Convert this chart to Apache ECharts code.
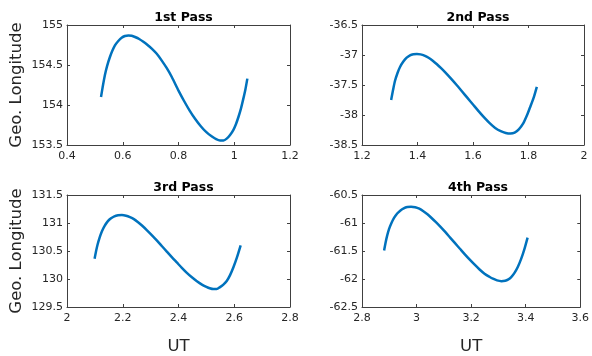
<!DOCTYPE html>
<html><head><meta charset="utf-8">
<script src="https://cdn.jsdelivr.net/npm/echarts@6/dist/echarts.min.js"></script>
<style>html,body{margin:0;padding:0;background:#fff}#c{width:592px;height:356px}</style>
</head><body><div id="c"></div>
<script>
// ---- data ----
const titles = ['1st Pass', '2nd Pass', '3rd Pass', '4th Pass'];
const yName = 'Geo. Longitude';
const xName = 'UT';

const pass1X = [0.522,0.528,0.536,0.544,0.554,0.563,0.572,0.584,0.596,0.608,0.620,0.632,0.644,0.659,0.674,0.689,0.704,0.722,0.740,0.758,0.776,0.800,0.820,0.840,0.860,0.880,0.900,0.920,0.935,0.949,0.961,0.973,0.985,0.997,1.006,1.015,1.024,1.032,1.040,1.047];
const pass1Y = [154.10,154.225,154.375,154.49,154.60,154.68,154.745,154.80,154.84,154.862,154.87,154.865,154.85,154.825,154.79,154.75,154.705,154.64,154.555,154.46,154.35,154.18,154.05,153.93,153.825,153.735,153.66,153.605,153.572,153.555,153.556,153.58,153.625,153.69,153.76,153.85,153.955,154.07,154.195,154.33];

const pass2X = [1.305,1.312,1.319,1.328,1.337,1.349,1.361,1.373,1.385,1.398,1.411,1.425,1.440,1.455,1.470,1.485,1.500,1.520,1.541,1.560,1.580,1.600,1.620,1.640,1.660,1.680,1.700,1.718,1.735,1.750,1.765,1.781,1.795,1.805,1.818,1.830];
const pass2Y = [-37.75,-37.58,-37.43,-37.30,-37.20,-37.11,-37.045,-37.005,-36.988,-36.983,-36.99,-37.01,-37.045,-37.095,-37.155,-37.22,-37.29,-37.39,-37.50,-37.605,-37.715,-37.825,-37.935,-38.04,-38.135,-38.215,-38.27,-38.30,-38.31,-38.295,-38.24,-38.14,-38.00,-37.88,-37.72,-37.53];

const pass3X = [2.099,2.104,2.110,2.117,2.125,2.135,2.146,2.158,2.170,2.183,2.197,2.212,2.226,2.240,2.255,2.269,2.287,2.304,2.322,2.340,2.358,2.376,2.394,2.412,2.430,2.448,2.466,2.484,2.500,2.512,2.525,2.537,2.549,2.561,2.573,2.585,2.597,2.610,2.623];
const pass3Y = [130.36,130.49,130.62,130.74,130.85,130.95,131.03,131.085,131.12,131.137,131.142,131.13,131.105,131.07,131.015,130.955,130.87,130.785,130.69,130.59,130.49,130.39,130.295,130.20,130.11,130.03,129.96,129.90,129.86,129.835,129.82,129.82,129.855,129.90,129.965,130.07,130.21,130.39,130.60];

const pass4X = [2.881,2.886,2.892,2.899,2.908,2.918,2.929,2.941,2.953,2.966,2.980,2.995,3.010,3.025,3.040,3.055,3.070,3.087,3.105,3.123,3.141,3.159,3.177,3.195,3.213,3.231,3.249,3.267,3.280,3.295,3.311,3.325,3.335,3.347,3.359,3.371,3.383,3.395,3.407];
const pass4Y = [-61.49,-61.36,-61.23,-61.11,-61.00,-60.905,-60.83,-60.775,-60.737,-60.715,-60.708,-60.718,-60.745,-60.79,-60.845,-60.91,-60.98,-61.065,-61.16,-61.26,-61.36,-61.46,-61.56,-61.655,-61.745,-61.83,-61.905,-61.96,-61.995,-62.025,-62.038,-62.03,-62.01,-61.965,-61.89,-61.785,-61.645,-61.47,-61.26];

const xRanges = [[0.4,1.2],[1.2,2.0],[2.0,2.8],[2.8,3.6]];
const yRanges = [[153.5,155],[-38.5,-36.5],[129.5,131.5],[-62.5,-60.5]];
const xStep = 0.2, yStep = 0.5;

// ---- chart ----
const passes = [[pass1X,pass1Y],[pass2X,pass2Y],[pass3X,pass3Y],[pass4X,pass4Y]];
const grids = [
  {left:67, top:25, width:223, height:120},
  {left:362, top:25, width:222, height:120},
  {left:67, top:195, width:223, height:120},
  {left:362, top:195, width:222, height:120}
];
const font = 'DejaVu Sans';
const axCol = '#404040';
const txtCol = '#262626';
const xAxis = [], yAxis = [], series = [], title = [];
grids.forEach((g, i) => {
  const common = {
    axisLine: {show: true, lineStyle: {color: axCol, width: 1}},
    axisTick: {show: true, inside: true, length: 3, lineStyle: {color: axCol}},
    splitLine: {show: false}
  };
  xAxis.push(Object.assign({}, common, {
    type: 'value', gridIndex: i, position: 'bottom', min: xRanges[i][0], max: xRanges[i][1], interval: xStep,
    axisLabel: {color: txtCol, fontFamily: font, fontSize: 11, margin: 6, showMinLabel: true, showMaxLabel: true},
    name: i >= 2 ? xName : '', nameLocation: 'middle', nameGap: 31,
    nameTextStyle: {color: txtCol, fontFamily: font, fontSize: 16.5}
  }));
  xAxis.push(Object.assign({}, common, {
    type: 'value', gridIndex: i, position: 'top', min: xRanges[i][0], max: xRanges[i][1], interval: xStep,
    axisLabel: {show: false}
  }));
  yAxis.push(Object.assign({}, common, {
    type: 'value', gridIndex: i, position: 'left', min: yRanges[i][0], max: yRanges[i][1], interval: yStep,
    axisLabel: {color: txtCol, fontFamily: font, fontSize: 11, margin: 4, showMinLabel: true, showMaxLabel: true},
    name: (i % 2 === 0) ? yName : '', nameLocation: 'middle', nameGap: 42,
    nameTextStyle: {color: txtCol, fontFamily: font, fontSize: 16.5}
  }));
  yAxis.push(Object.assign({}, common, {
    type: 'value', gridIndex: i, position: 'right', min: yRanges[i][0], max: yRanges[i][1], interval: yStep,
    axisLabel: {show: false}
  }));
  const [xs, ys] = passes[i];
  series.push({
    type: 'line', xAxisIndex: 2*i, yAxisIndex: 2*i, showSymbol: false, smooth: 0.25,
    data: xs.map((x, k) => [x, ys[k]]),
    lineStyle: {color: '#0072BD', width: 2.5}, itemStyle: {color: '#0072BD'}, silent: true, animation: false
  });
  title.push({
    text: titles[i], left: g.left + g.width/2, top: g.top - 19, textAlign: 'center',
    textStyle: {fontFamily: font, fontSize: 12.5, fontWeight: 'bold', color: '#000'}
  });
});
const chart = echarts.init(document.getElementById('c'), null, {renderer: 'canvas'});
chart.setOption({
  animation: false, backgroundColor: '#fff',
  title, grid: grids, xAxis, yAxis, series
});
</script></body></html>
